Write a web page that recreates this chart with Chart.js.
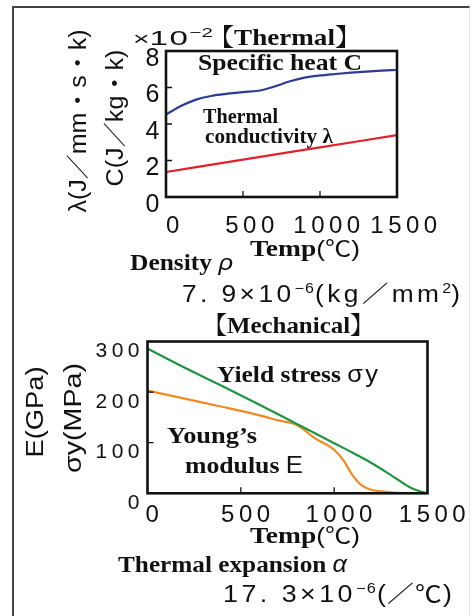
<!DOCTYPE html>
<html>
<head>
<meta charset="utf-8">
<script src="https://cdn.jsdelivr.net/npm/chart.js@4"></script>
<style>
    html, body { margin: 0; padding: 0; background: #fff; }
    body { width: 474px; height: 616px; position: relative; overflow: hidden; }
    .frame { position: absolute; left: 12px; top: 6px; width: 455px; height: 640px;
             border-left: 2px solid #444; border-top: 2px solid #444; border-right: 1px solid #e2e2e2; }
    .box { position: absolute; left: 0; width: 474px; }
    #thermalBox { top: 0; height: 308px; }
    #mechBox { top: 300px; height: 316px; }
</style>
</head>
<body>
<div class="frame"></div>
<div class="box" id="thermalBox"><canvas id="thermalChart"></canvas></div>
<div class="box" id="mechBox"><canvas id="mechChart"></canvas></div>
<script>
// thermal (values x1e-2)
const heatTemps = [0, 100, 200, 300, 400, 500, 600, 700, 800, 900, 1000, 1100, 1200, 1300, 1400, 1500]
const specificHeat = [4.52, 5.0, 5.35, 5.55, 5.66, 5.75, 5.82, 6.04, 6.33, 6.54, 6.66, 6.74, 6.81, 6.87, 6.92, 6.96]
const condTemps = [0, 500, 1000, 1500]
const conductivity = [1.37, 2.05, 2.72, 3.39]

// mechanical
const yieldTemps = [0, 200, 400, 600, 800, 900, 1000, 1100, 1200, 1300, 1400, 1450, 1500]
const yieldStress = [286, 248, 212, 175, 137, 118, 99, 80, 60, 37, 13, 5, 0]
const youngTemps = [0, 200, 400, 600, 700, 800, 900, 1000, 1050, 1100, 1150, 1200, 1250, 1300, 1400, 1500]
const youngModulus = [203, 187, 171, 154, 144, 135, 108, 86, 65, 35, 15, 7, 4, 2, 0.5, 0]

const tempTicks = [0, 500, 1000, 1500]

const SANS = "'Liberation Sans', 'Noto Sans CJK JP', sans-serif"
const SERIF = "'Liberation Serif', 'Noto Serif CJK JP', 'Noto Sans CJK JP', serif"
const sans = (s, style = '') => `${style} ${s}px ${SANS}`.trim()
const serif = s => `bold ${s}px ${SERIF}`

const toPoints = (xs, ys) => xs.map((x, i) => ({ x: x, y: ys[i] }))

// free text, page coords: left x, baseline y, w = width to fit
const thermalNotes = [
    { x: 133, y: 45, w: 80, parts: [{ t: '×', f: sans(18) }, { t: '10', f: sans(21), ls: 1 }, { t: '−2', f: sans(13), dy: -8 }] },
    { x: 207, y: 45, w: 155, parts: [{ t: '【Thermal】', f: serif(23) }] },
    { x: 198, y: 70, w: 164, parts: [{ t: 'Specific heat C', f: serif(24) }] },
    { x: 203, y: 123, w: 75, parts: [{ t: 'Thermal', f: serif(21) }] },
    { x: 205, y: 143, w: 128, parts: [{ t: 'conductivity λ', f: serif(21) }] },
    { x: 250, y: 256, w: 110, parts: [{ t: 'Temp', f: serif(23) }, { t: '(℃)', f: sans(22) }] },
    { x: 130, y: 270, w: 103, parts: [{ t: 'Density ', f: serif(23) }, { t: 'ρ', f: sans(23, 'italic') }] },
    { x: 182, y: 302, w: 278, parts: [{ t: '7. 9×10', f: sans(23), ls: 3 }, { t: '−6', f: sans(14), dy: -9, ls: 1 },
                                      { t: '(kg／mm', f: sans(23), ls: 3 }, { t: '2', f: sans(14), dy: -9 }, { t: ')', f: sans(23) }] },
]
const thermalRotated = [
    { x: 80, y: 121, w: 183, t: 'λ(J／mm・s・k)', f: sans(23) },
    { x: 117, y: 118, w: 137, t: 'C(J／kg・k)', f: sans(23) },
]
const mechNotes = [
    { x: 202, y: 333, w: 173, parts: [{ t: '【Mechanical】', f: serif(23) }] },
    { x: 217, y: 382, w: 163, parts: [{ t: 'Yield stress ', f: serif(24) }, { t: 'σy', f: sans(24), ls: 2 }] },
    { x: 167, y: 443, w: 90, parts: [{ t: 'Young’s', f: serif(24) }] },
    { x: 185, y: 473, w: 118, parts: [{ t: 'modulus ', f: serif(24) }, { t: 'E', f: sans(24) }] },
    { x: 250, y: 543, w: 110, parts: [{ t: 'Temp', f: serif(23) }, { t: '(℃)', f: sans(22) }] },
    { x: 118, y: 572, w: 229, parts: [{ t: 'Thermal expansion ', f: serif(24) }, { t: 'α', f: sans(24, 'italic') }] },
    { x: 223, y: 602, w: 230, parts: [{ t: '17. 3×10', f: sans(23), ls: 3 }, { t: '−6', f: sans(14), dy: -9, ls: 1 },
                                      { t: '(／℃)', f: sans(23), ls: 1 }] },
]
const mechRotated = [
    { x: 37, y: 412, w: 91, t: 'E(GPa)', f: sans(23) },
    { x: 75, y: 418, w: 110, t: 'σy(MPa)', f: sans(23) },
]

const partWidth = (ctx, p) => {
    ctx.font = p.f
    ctx.letterSpacing = (p.ls || 0) + 'px'
    return ctx.measureText(p.t).width
}

const drawNote = (ctx, n, top) => {
    const natural = n.parts.reduce((sum, p) => sum + partWidth(ctx, p), 0)
    ctx.save()
    ctx.translate(n.x, n.y - top)
    ctx.scale(n.w / natural, 1)
    let x = 0
    n.parts.forEach(p => {
        const pw = partWidth(ctx, p)
        ctx.fillText(p.t, x, p.dy || 0)
        x += pw
    })
    ctx.restore()
}

const drawRotated = (ctx, r, top) => {
    ctx.save()
    ctx.translate(r.x, r.y - top)
    ctx.rotate(-Math.PI / 2)
    ctx.font = r.f
    ctx.letterSpacing = '0px'
    ctx.scale(r.w / ctx.measureText(r.t).width, 1)
    ctx.textAlign = 'center'
    ctx.textBaseline = 'middle'
    ctx.fillText(r.t, 0, 0)
    ctx.restore()
}

const notesPlugin = (notes, rotated, top) => ({
    id: 'notes',
    afterDraw(chart) {
        const ctx = chart.ctx
        ctx.save()
        ctx.fillStyle = '#111'
        ctx.textAlign = 'left'
        ctx.textBaseline = 'alphabetic'
        notes.forEach(n => drawNote(ctx, n, top))
        rotated.forEach(r => drawRotated(ctx, r, top))
        ctx.restore()
    }
})

// plot box with inward tick marks, wide-set tick labels
const boxPlugin = innerY => ({
    id: 'box',
    beforeDraw(chart) {
        chart.ctx.letterSpacing = '4.5px'
    },
    beforeDatasetsDraw(chart) {
        chart.ctx.letterSpacing = '0px'
    },
    afterDatasetsDraw(chart) {
        const { ctx, chartArea: a, scales } = chart
        ctx.save()
        ctx.strokeStyle = '#111'
        ctx.lineWidth = 1.3
        ctx.beginPath()
        ;[500, 1000].forEach(v => {
            const px = scales.x.getPixelForValue(v)
            ctx.moveTo(px, a.bottom)
            ctx.lineTo(px, a.bottom - 6)
        })
        innerY.forEach(v => {
            const py = scales.y.getPixelForValue(v)
            ctx.moveTo(a.left, py)
            ctx.lineTo(a.left + 6, py)
        })
        ctx.stroke()
        ctx.lineWidth = 2.6
        ctx.strokeRect(a.left, a.top, a.right - a.left, a.bottom - a.top)
        ctx.restore()
    }
})

const lineSet = (points, color) => ({
    data: points,
    borderColor: color,
    borderWidth: 2.2,
    pointRadius: 0,
    cubicInterpolationMode: 'monotone',
})

const axisX = (offset, pad, height) => ({
    type: 'linear',
    min: 0,
    max: 1500,
    grid: { display: false, drawTicks: false },
    border: { display: false },
    afterBuildTicks: s => { s.ticks = tempTicks.map(v => ({ value: v })) },
    ticks: {
        color: '#111', font: { family: SANS, size: 24 }, padding: pad, labelOffset: offset,
        maxRotation: 0, autoSkip: false, callback: v => String(v),
    },
    afterFit: s => { s.height = height },
})

const axisY = (max, step, size, pad, offset, width) => ({
    min: 0,
    max: max,
    grid: { display: false, drawTicks: false },
    border: { display: false },
    ticks: { stepSize: step, color: '#111', font: { family: SANS, size: size }, padding: pad, labelOffset: offset, callback: v => String(v) },
    afterFit: s => { s.width = width },
})

const baseOptions = () => ({
    responsive: true,
    maintainAspectRatio: false,
    animation: false,
    plugins: { legend: { display: false }, tooltip: { enabled: false } },
})

const initThermalChart = () => {
    const canvas = document.getElementById('thermalChart')
    new Chart(canvas, {
        type: 'line',
        data: {
            datasets: [
                lineSet(toPoints(heatTemps, specificHeat), '#2d3a96'),
                lineSet(toPoints(condTemps, conductivity), '#e3202c'),
            ]
        },
        options: {
            ...baseOptions(),
            layout: { padding: { left: 0, right: 77, top: 51, bottom: 0 } },
            scales: {
                x: axisX(9, 15, 111),
                y: axisY(8, 2, 25, 2, 8, 166),
            }
        },
        plugins: [boxPlugin([2, 4, 6]), notesPlugin(thermalNotes, thermalRotated, 0)]
    })
}

const initMechChart = () => {
    const canvas = document.getElementById('mechChart')
    new Chart(canvas, {
        type: 'line',
        data: {
            datasets: [
                lineSet(toPoints(yieldTemps, yieldStress), '#1f9540'),
                lineSet(toPoints(youngTemps, youngModulus), '#f08a24'),
            ]
        },
        options: {
            ...baseOptions(),
            layout: { padding: { left: 0, right: 46.5, top: 41.5, bottom: 0 } },
            scales: {
                x: axisX(7, 8, 122.7),
                y: axisY(300, 100, 21, 3.5, 10, 147.5),
            }
        },
        plugins: [boxPlugin([100, 200]), notesPlugin(mechNotes, mechRotated, 300)]
    })
}

initThermalChart()
initMechChart()
</script>
</body>
</html>
